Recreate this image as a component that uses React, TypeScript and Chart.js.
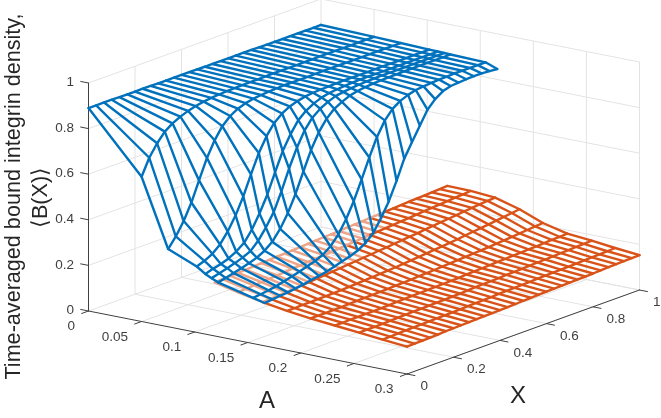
import React, { useEffect, useRef } from "react";
import { Chart, registerables } from "chart.js";

Chart.register(...registerables);

const WIDTH = 661;
const HEIGHT = 418;

const aTicks = [0, 0.05, 0.1, 0.15, 0.2, 0.25, 0.3];
const aTickLabels = ["0", "0.05", "0.1", "0.15", "0.2", "0.25", "0.3"];
const xTicks = [0, 0.2, 0.4, 0.6, 0.8, 1];
const xTickLabels = ["0", "0.2", "0.4", "0.6", "0.8", "1"];
const zTicks = [0, 0.2, 0.4, 0.6, 0.8, 1];
const zTickLabels = ["0", "0.2", "0.4", "0.6", "0.8", "1"];

const xSamples = [
  0, 0.033, 0.067, 0.1, 0.133, 0.167, 0.2, 0.233, 0.267, 0.3, 0.333, 0.367, 0.4, 0.433, 0.467, 0.5,
  0.533, 0.567, 0.6, 0.633, 0.667, 0.7, 0.733, 0.767, 0.8, 0.833, 0.867, 0.9, 0.933, 0.967, 1,
];

const blueA = [0, 0.05, 0.075, 0.102, 0.11, 0.116, 0.122, 0.155, 0.166];
const blueRow0 = [.89,.89,.89,.89,.889,.889,.889,.889,.889,.888,.888,.888,.888,.888,.888,.887,.887,.887,.887,.887,.887,.887,.886,.886,.886,.886,.886,.886,.886,.886,.886];
const blueRow1 = [.635,.706,.757,.796,.82,.837,.85,.859,.866,.87,.873,.875,.876,.877,.878,.878,.879,.879,.879,.879,.879,.88,.88,.88,.88,.88,.88,.88,.88,.88,.88];
const blueRow2 = [.341,.384,.439,.508,.593,.679,.744,.794,.826,.846,.858,.865,.869,.872,.874,.875,.875,.875,.875,.876,.876,.876,.876,.876,.876,.876,.876,.876,.876,.876,.876];
const blueRow3 = [.289,.302,.32,.349,.394,.452,.523,.607,.689,.75,.796,.825,.844,.855,.863,.867,.869,.87,.871,.872,.872,.872,.872,.872,.872,.872,.872,.872,.872,.872,.872];
const blueRow4 = [.264,.274,.283,.295,.313,.339,.384,.443,.514,.599,.68,.742,.791,.82,.84,.853,.861,.865,.868,.87,.871,.871,.871,.871,.871,.871,.871,.871,.871,.871,.871];
const blueRow5 = [.251,.26,.27,.28,.292,.308,.341,.387,.442,.521,.609,.689,.752,.795,.822,.84,.853,.859,.863,.866,.868,.869,.87,.87,.87,.87,.87,.87,.87,.87,.87];
const blueRow6 = [.238,.245,.254,.263,.273,.285,.303,.33,.374,.431,.502,.589,.671,.736,.784,.815,.833,.848,.856,.861,.864,.866,.867,.868,.869,.869,.869,.869,.869,.869,.869];
const blueRow7 = [.2,.204,.209,.215,.224,.233,.242,.253,.264,.279,.304,.344,.398,.465,.548,.632,.71,.77,.808,.831,.845,.854,.858,.861,.863,.864,.865,.865,.865,.865,.865];
const blueRow8 = [.188,.192,.195,.198,.203,.208,.215,.221,.228,.238,.248,.258,.271,.291,.324,.376,.436,.515,.6,.66,.72,.778,.812,.835,.845,.848,.85,.851,.851,.849,.846];
const blueRows = [blueRow0, blueRow1, blueRow2, blueRow3, blueRow4, blueRow5, blueRow6, blueRow7, blueRow8];

const orangeA = [0.119, 0.141, 0.164, 0.187, 0.209, 0.232, 0.255, 0.277, 0.3];
const orangeRow0 = [.235,.237,.239,.24,.242,.244,.246,.248,.25,.251,.253,.255,.257,.259,.261,.262,.264,.266,.268,.27,.272,.273,.275,.277,.279,.281,.283,.284,.286,.288,.29];
const orangeRow1 = [.212,.215,.217,.22,.222,.225,.227,.23,.232,.235,.237,.24,.242,.245,.247,.25,.252,.255,.257,.26,.262,.265,.267,.27,.273,.275,.278,.28,.283,.285,.288];
const orangeRow2 = [.19,.192,.194,.196,.199,.201,.204,.207,.21,.213,.216,.219,.222,.225,.228,.231,.234,.237,.241,.244,.247,.251,.254,.258,.261,.265,.268,.272,.275,.278,.28];
const orangeRow3 = [.173,.173,.174,.174,.175,.176,.177,.178,.18,.182,.184,.186,.188,.19,.192,.195,.198,.201,.204,.207,.21,.213,.217,.221,.225,.229,.233,.237,.241,.246,.25];
const orangeRow4 = [.16,.16,.16,.161,.161,.162,.163,.164,.165,.166,.167,.169,.17,.171,.173,.174,.176,.178,.18,.182,.184,.186,.188,.19,.193,.195,.198,.201,.204,.207,.21];
const orangeRow5 = [.15,.15,.151,.151,.152,.152,.153,.154,.155,.156,.157,.158,.159,.16,.161,.162,.163,.165,.166,.168,.169,.171,.172,.174,.175,.177,.178,.18,.182,.183,.185];
const orangeRow6 = [.14,.141,.141,.142,.143,.144,.145,.146,.147,.148,.149,.15,.151,.152,.153,.155,.156,.157,.158,.16,.161,.162,.164,.165,.166,.168,.169,.17,.172,.173,.175];
const orangeRow7 = [.13,.131,.132,.133,.134,.135,.136,.137,.138,.139,.14,.141,.142,.143,.144,.146,.147,.148,.149,.15,.151,.152,.153,.154,.155,.156,.158,.159,.16,.161,.163];
const orangeRow8 = [.12,.121,.122,.123,.124,.126,.127,.128,.129,.13,.131,.132,.133,.134,.135,.137,.138,.139,.14,.141,.142,.143,.144,.145,.146,.148,.149,.15,.151,.152,.153];
const orangeRows = [orangeRow0, orangeRow1, orangeRow2, orangeRow3, orangeRow4, orangeRow5, orangeRow6, orangeRow7, orangeRow8];

const BLUE = "#0072BD";
const ORANGE = "#D95319";
const ORANGE_LIGHT = "#EDA487";
const GRID = "#E3E3E3";
const AXIS = "#404040";
const TEXT = "#404040";
const TITLE = "#262626";
const MESH_WIDTH = 2.4;

// Fixed orthographic view of the (A, X, Z) box.
const project = (a: number, x: number, z: number) => ({
  x: 88.5 + (a / 0.3) * 318.5 + x * 232.5,
  y: 311 + (a / 0.3) * 63 - x * 84 - z * 228,
});

type P = { x: number; y: number };

const line = (data: P[], color: string, width: number, extra: object = {}) => ({
  data,
  showLine: true,
  pointRadius: 0,
  borderColor: color,
  borderWidth: width,
  borderJoinStyle: "round",
  borderCapStyle: "round",
  tension: 0,
  fill: false,
  ...extra,
});

const blueEdge = blueRows[blueRows.length - 1].map((z, i) =>
  project(blueA[blueA.length - 1], xSamples[i], z)
);

// True when a point lies to the left of the blue surface's outer edge, so it
// is seen through that surface's pale faces.
const behindBlue = (p: P) => {
  if (p.y > blueEdge[0].y) return false;
  for (let i = 0; i < blueEdge.length - 1; i++) {
    const a = blueEdge[i];
    const b = blueEdge[i + 1];
    if (p.y <= a.y && p.y >= b.y) {
      const t = (a.y - p.y) / (a.y - b.y || 1);
      return p.x < a.x + (b.x - a.x) * t;
    }
  }
  return false;
};

const orangeSegment = {
  borderColor: (ctx: any) => {
    const mid = {
      x: (ctx.p0.parsed.x + ctx.p1.parsed.x) / 2,
      y: (ctx.p0.parsed.y + ctx.p1.parsed.y) / 2,
    };
    return behindBlue(mid) ? ORANGE_LIGHT : ORANGE;
  },
};

const meshDatasets = (aList: number[], rows: number[][], color: string, extra: object) => {
  const sets: any[] = [];
  rows.forEach((row, r) => {
    sets.push(line(row.map((z, i) => project(aList[r], xSamples[i], z)), color, MESH_WIDTH, extra));
  });
  xSamples.forEach((x, i) => {
    sets.push(line(rows.map((row, r) => project(aList[r], x, row[i])), color, MESH_WIDTH, extra));
  });
  return sets;
};

const buildDatasets = () => {
  const aMax = 0.3;
  const gridSets: any[] = [];
  aTicks.slice(1).forEach((a) => {
    gridSets.push(line([project(a, 0, 0), project(a, 1, 0)], GRID, 1));
    gridSets.push(line([project(a, 1, 0), project(a, 1, 1)], GRID, 1));
  });
  xTicks.slice(1).forEach((x) => {
    gridSets.push(line([project(0, x, 0), project(aMax, x, 0)], GRID, 1));
    gridSets.push(line([project(0, x, 0), project(0, x, 1)], GRID, 1));
  });
  zTicks.forEach((z) => {
    gridSets.push(line([project(0, 0, z), project(0, 1, z), project(aMax, 1, z)], GRID, 1));
  });

  const axisSets: any[] = [
    line([project(0, 0, 0), project(0, 0, 1)], AXIS, 1),
    line([project(0, 0, 0), project(aMax, 0, 0)], AXIS, 1),
    line([project(aMax, 0, 0), project(aMax, 1, 0)], AXIS, 1),
  ];
  zTicks.forEach((z) => axisSets.push(line([project(-0.0075, 0, z), project(0, 0, z)], AXIS, 1)));
  aTicks.forEach((a) => axisSets.push(line([project(a, -0.03, 0), project(a, 0, 0)], AXIS, 1)));
  xTicks.forEach((x) => axisSets.push(line([project(aMax, x, 0), project(aMax + 0.0075, x, 0)], AXIS, 1)));

  // Chart.js paints the first dataset last, so the blue mesh stays on top.
  return [
    ...meshDatasets(blueA, blueRows, BLUE, {}),
    ...meshDatasets(orangeA, orangeRows, ORANGE, { segment: orangeSegment }),
    ...axisSets,
    ...gridSets,
  ];
};

const textPlugin = {
  id: "labels3d",
  afterDraw(chart: any) {
    const { ctx, scales } = chart;
    const px = (p: P) => ({ x: scales.x.getPixelForValue(p.x), y: scales.y.getPixelForValue(p.y) });
    ctx.save();
    ctx.fillStyle = TEXT;
    ctx.textBaseline = "middle";
    ctx.font = "13.5px 'Liberation Sans'";

    ctx.textAlign = "right";
    zTicks.forEach((z, i) => {
      const p = px(project(0, 0, z));
      ctx.fillText(zTickLabels[i], p.x - 14.5, p.y - 0.5);
    });
    aTicks.forEach((a, i) => {
      const p = px(project(a, 0, 0));
      ctx.fillText(aTickLabels[i], p.x - 13.5, p.y + 15.5);
    });
    ctx.textAlign = "left";
    xTicks.forEach((x, i) => {
      const p = px(project(0.3, x, 0));
      ctx.fillText(xTickLabels[i], p.x + 13.5, p.y + 12.5);
    });

    ctx.fillStyle = TITLE;
    ctx.textAlign = "center";
    ctx.font = "24px 'Liberation Sans'";
    ctx.fillText("A", 267, 401);
    ctx.fillText("X", 518, 396);

    ctx.font = "21.6px 'Liberation Sans'";
    ctx.save();
    ctx.translate(14, 196.5);
    ctx.rotate(-Math.PI / 2);
    ctx.fillText("Time-averaged bound integrin density,", 0, 0);
    ctx.restore();
    ctx.save();
    ctx.translate(41, 197.5);
    ctx.rotate(-Math.PI / 2);
    ctx.fillText("\u27E8B(X)\u27E9", 0, 0);
    ctx.restore();
    ctx.restore();
  },
};

export default function App() {
  const ref = useRef<HTMLCanvasElement>(null);
  useEffect(() => {
    if (!ref.current) return;
    const chart = new Chart(ref.current, {
      type: "scatter",
      data: { datasets: buildDatasets() as any },
      options: {
        animation: false,
        responsive: false,
        events: [],
        layout: { padding: 0 },
        clip: false as any,
        plugins: { legend: { display: false }, tooltip: { enabled: false } },
        scales: {
          x: { type: "linear", min: 0, max: WIDTH, display: false },
          y: { type: "linear", min: 0, max: HEIGHT, reverse: true, display: false },
        },
      },
      plugins: [textPlugin],
    });
    return () => chart.destroy();
  }, []);
  return (
    <canvas
      ref={ref}
      width={WIDTH}
      height={HEIGHT}
      style={{ position: "fixed", left: 0, top: 0, width: WIDTH, height: HEIGHT, display: "block" }}
    />
  );
}
